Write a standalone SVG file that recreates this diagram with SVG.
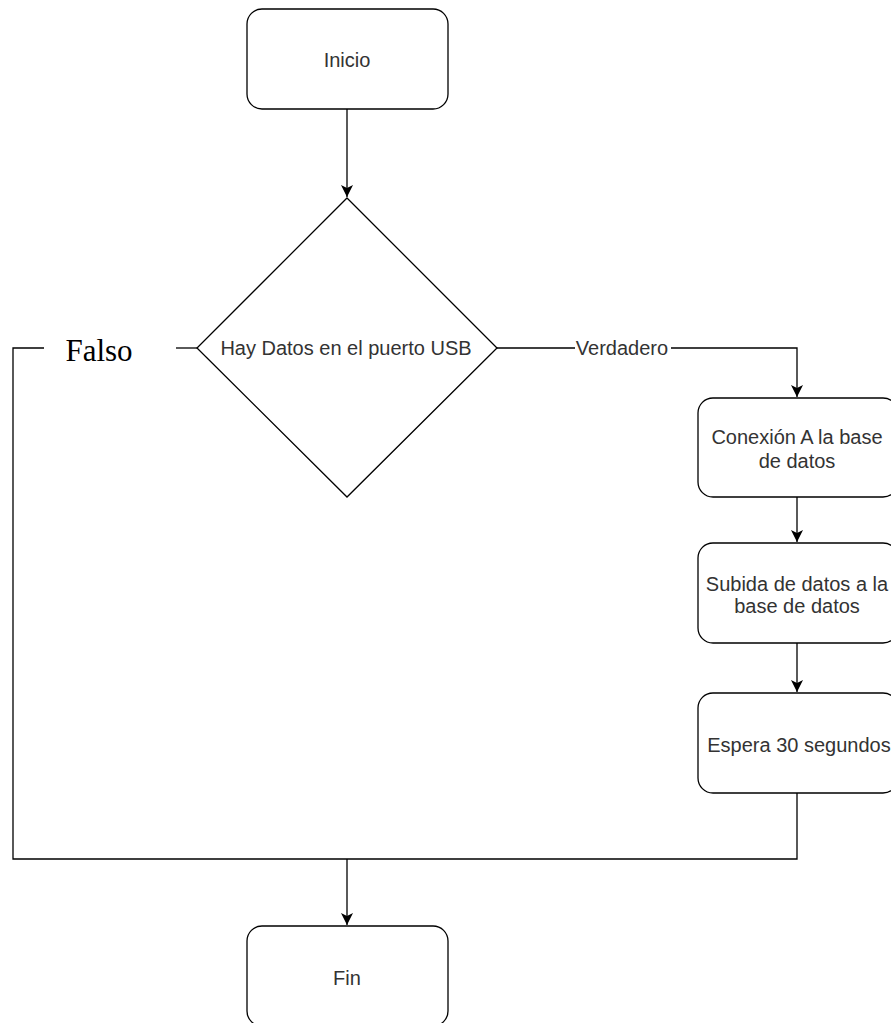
<svg xmlns="http://www.w3.org/2000/svg" width="891" height="1023" viewBox="0 0 891 1023">
<style>
.box{fill:#fff;stroke:#000;stroke-width:1.3}
.lbl{font-family:"Liberation Sans",Arial,sans-serif;font-size:20px;fill:#333;text-anchor:middle}
.edge{fill:none;stroke:#000;stroke-width:1.3}
</style>
<defs>
<marker id="ah" viewBox="0 0 10 10" refX="10" refY="5" markerWidth="12" markerHeight="12" markerUnits="userSpaceOnUse" orient="auto">
<path d="M0,0 L10,5 L0,10 L2.5,5 Z" fill="#000"/>
</marker>
</defs>
<rect width="891" height="1023" fill="#fff"/>
<g id="edges">
<path class="edge" d="M347,109 V197" marker-end="url(#ah)"/>
<path class="edge" d="M497,348 H797 V397" marker-end="url(#ah)"/>
<path class="edge" d="M797,497 V542" marker-end="url(#ah)"/>
<path class="edge" d="M797,643 V692" marker-end="url(#ah)"/>
<path class="edge" d="M797,793 V859 H13 V348 H44"/>
<path class="edge" d="M176,348 H197"/>
<path class="edge" d="M347,859 V925" marker-end="url(#ah)"/>
<rect x="575" y="338" width="96" height="20" fill="#fff"/>
<text class="lbl" x="622" y="355">Verdadero</text>
<text x="99" y="361" font-family="Liberation Serif,'Times New Roman',serif" font-size="31" fill="#000" text-anchor="middle">Falso</text>
</g>
<g id="inicio">
<rect class="box" x="247" y="9" width="201" height="100" rx="15"/>
<text class="lbl" x="347" y="67">Inicio</text>
</g>
<g id="decision">
<polygon class="box" points="347,198 497,348 347,497 197,348"/>
<text class="lbl" x="346" y="355">Hay Datos en el puerto USB</text>
</g>
<g id="conexion">
<rect class="box" x="698" y="398" width="200" height="99" rx="15"/>
<text class="lbl" x="797" y="444">Conexión A la base</text>
<text class="lbl" x="797" y="468">de datos</text>
</g>
<g id="subida">
<rect class="box" x="698" y="543" width="200" height="100" rx="15"/>
<text class="lbl" x="797" y="591">Subida de datos a la</text>
<text class="lbl" x="797" y="613">base de datos</text>
</g>
<g id="espera">
<rect class="box" x="698" y="693" width="200" height="100" rx="15"/>
<text class="lbl" x="799" y="752">Espera 30 segundos</text>
</g>
<g id="fin">
<rect class="box" x="247" y="926" width="201" height="100" rx="15"/>
<text class="lbl" x="347" y="985">Fin</text>
</g>
</svg>
